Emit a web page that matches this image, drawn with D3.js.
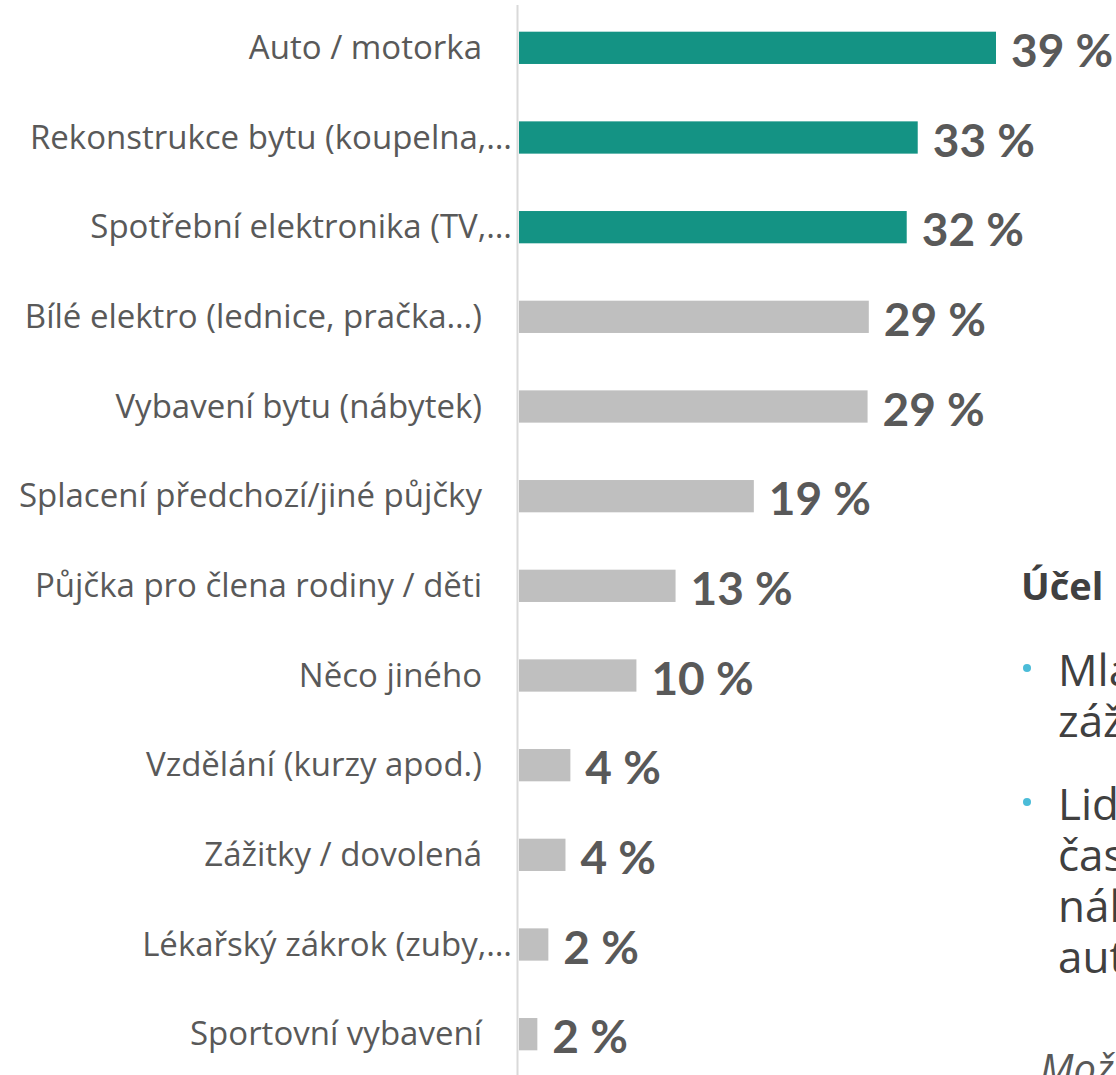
<!DOCTYPE html>
<html>
<head>
<meta charset="utf-8">
<script src="https://cdn.jsdelivr.net/npm/d3@7"></script>
<style>
    html, body { margin: 0; padding: 0; background: #fff; overflow: hidden; }
    svg { display: block; }
</style>
</head>
<body>
<svg id="chart" width="1116" height="1075"></svg>
<script>
// data
var categories = [
    "Auto / motorka",
    "Rekonstrukce bytu (koupelna,…",
    "Spotřební elektronika (TV,…",
    "Bílé elektro (lednice, pračka…)",
    "Vybavení bytu (nábytek)",
    "Splacení předchozí/jiné půjčky",
    "Půjčka pro člena rodiny / děti",
    "Něco jiného",
    "Vzdělání (kurzy apod.)",
    "Zážitky / dovolená",
    "Lékařský zákrok (zuby,…",
    "Sportovní vybavení"
];
var values = [39.0, 32.6, 31.7, 28.6, 28.5, 19.2, 12.8, 9.6, 4.2, 3.8, 2.4, 1.5];
var valueLabels = ["39 %", "33 %", "32 %", "29 %", "29 %", "19 %", "13 %", "10 %", "4 %", "4 %", "2 %", "2 %"];
var highlighted = [true, true, true, false, false, false, false, false, false, false, false, false];

var sideTitle = "Účel";
var sideBullets = [
    ["Mladí lidé si půjčují", "zážitky a dovolenou"],
    ["Lidé starší 45 let", "častěji půjčují na", "nákup vybavení", "auta a bytu"]
];
var sideNote = "Možnost více odpovědí";

var teal = "#149384",
    grey = "#bfbfbf",
    textColor = "#595959";

var svg = d3.select("#chart");

var x = d3.scaleLinear()
    .domain([0, 39])
    .range([519, 996]);

var y = d3.scaleBand()
    .domain(categories)
    .range([3, 1079])
    .paddingInner(0.64)
    .paddingOuter(0.32);

var rows = categories.map(function(c, i) {
    return {cat: c, value: values[i], label: valueLabels[i], hi: highlighted[i]};
});

// axis line
svg.append("line")
    .attr("x1", 517.5).attr("x2", 517.5)
    .attr("y1", 5).attr("y2", 1075)
    .attr("stroke", "#d9d9d9")
    .attr("stroke-width", 2);

svg.append("g")
    .selectAll("rect")
    .data(rows)
    .join("rect")
    .attr("x", x(0))
    .attr("y", d => y(d.cat))
    .attr("width", d => x(d.value) - x(0))
    .attr("height", y.bandwidth())
    .attr("fill", d => d.hi ? teal : grey);

// category labels (truncated ones run right up to the axis)
svg.append("g")
    .selectAll("text")
    .data(rows)
    .join("text")
    .attr("x", d => d.cat.endsWith("…") ? 512 : 482)
    .attr("y", d => y(d.cat) + y.bandwidth() / 2 + 11)
    .attr("text-anchor", "end")
    .attr("fill", textColor)
    .style("font-family", "'Open Sans', sans-serif")
    .style("font-size", "33px")
    .text(d => d.cat);

// value labels
svg.append("g")
    .selectAll("text")
    .data(rows)
    .join("text")
    .attr("x", d => x(d.value) + 15)
    .attr("y", d => y(d.cat) + y.bandwidth() / 2 + 19)
    .attr("fill", textColor)
    .style("font-family", "Lato, 'Open Sans', sans-serif")
    .style("font-weight", "bold")
    .style("font-size", "46px")
    .text(d => d.label);

// side text, cut by the page edge
var side = svg.append("g")
    .style("font-family", "'Open Sans', sans-serif")
    .attr("fill", "#404040");

side.append("text")
    .attr("x", 1021)
    .attr("y", 600)
    .style("font-weight", "bold")
    .style("font-size", "38px")
    .text(sideTitle);

var lineY = [[686, 737], [820, 871, 922, 973]];
sideBullets.forEach(function(lines, b) {
    side.append("circle")
        .attr("cx", 1027)
        .attr("cy", lineY[b][0] - 18)
        .attr("r", 4)
        .attr("fill", "#4bbcd8");
    lines.forEach(function(t, j) {
        side.append("text")
            .attr("x", 1058)
            .attr("y", lineY[b][j])
            .style("font-size", "44px")
            .text(t);
    });
});

side.append("text")
    .attr("x", 1040)
    .attr("y", 1083)
    .style("font-style", "italic")
    .style("font-size", "40px")
    .attr("fill", textColor)
    .text(sideNote);
</script>
</body>
</html>
